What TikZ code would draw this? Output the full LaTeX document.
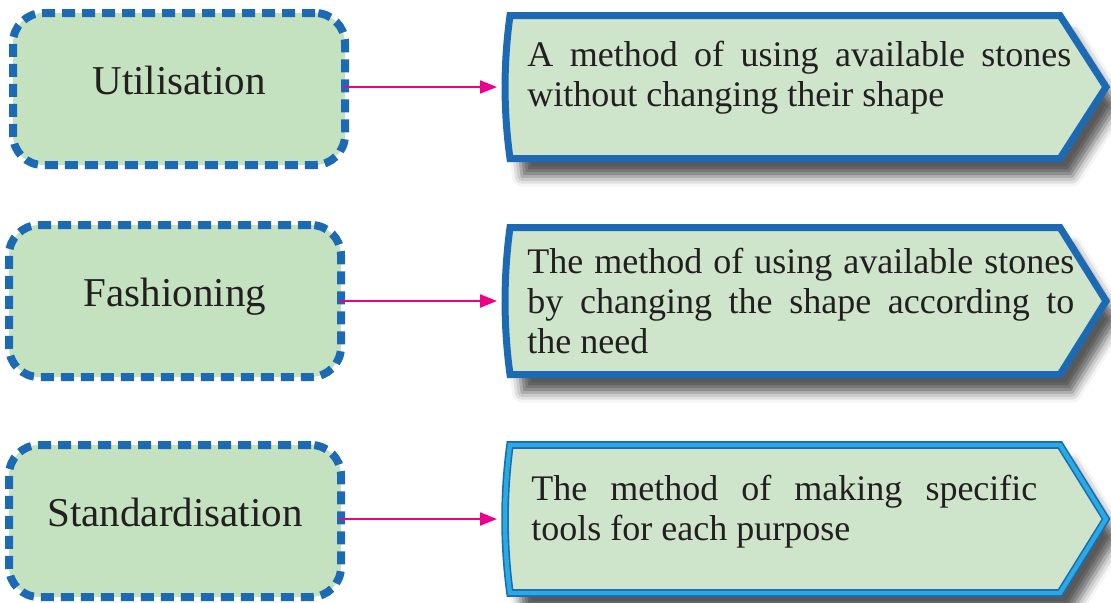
\documentclass[tikz,border=0pt]{standalone}
\usepackage{fontspec}
\setmainfont{Liberation Serif}
\usetikzlibrary{arrows.meta,shadows.blur}
\definecolor{boxblue}{RGB}{29,106,180}
\definecolor{boxcyan}{RGB}{41,171,226}
\definecolor{termfill}{RGB}{197,226,192}
\definecolor{notefill}{RGB}{206,228,203}
\definecolor{linkpink}{RGB}{236,0,140}
\definecolor{inktext}{RGB}{35,31,32}
\hyphenpenalty=10000
\exhyphenpenalty=10000
\begin{document}
\begin{tikzpicture}[x=0.5pt,y=-0.5pt,
  term/.style={draw=boxblue,fill=termfill,line width=4pt,dash pattern=on 6.5pt off 3.5pt,
    rounded corners=15pt,minimum width=166pt,minimum height=76pt,text=inktext,
    font=\fontsize{20.5}{24}\selectfont,text height=7pt,text depth=2pt},
  notebody/.style={inner sep=0pt,outer sep=0pt,minimum width=275pt},
  noteframe/.style={draw=boxblue,line width=3.5pt,fill=notefill,line join=miter,
    blur shadow={shadow xshift=6pt,shadow yshift=-9pt,shadow blur radius=5pt,shadow opacity=65}},
  notetext/.style={anchor=base west,inner sep=0pt,text=inktext,align=justify,
    font=\fontsize{18}{20}\selectfont},
  link/.style={draw=linkpink,line width=1pt,-{Triangle[length=8.5pt,width=6.5pt]},
    shorten <=-3pt,shorten >=6.5pt}]
\useasboundingbox (0,0) rectangle (1111,602);
\node [term] (u1) at (179,89) {Utilisation};
\node [term] (u2) at (175,301) {Fashioning};
\node [term] (u3) at (175,521) {Standardisation};
\node [notebody,minimum height=71.5pt] (d1) at (785,87) {};
\node [notebody,minimum height=73.5pt] (d2) at (785,301) {};
\node [notebody,minimum height=74pt] (d3) at (785,519) {};
\draw [noteframe] (d1.north west) -- (d1.north east) -- ([xshift=23pt]d1.east) -- (d1.south east) -- (d1.south west)
  .. controls +(-3.3pt,24pt) and +(-3.3pt,-24pt) .. (d1.north west) -- cycle;
\draw [noteframe] (d2.north west) -- (d2.north east) -- ([xshift=23pt]d2.east) -- (d2.south east) -- (d2.south west)
  .. controls +(-3.3pt,24pt) and +(-3.3pt,-24pt) .. (d2.north west) -- cycle;
\draw [noteframe,line width=0.8pt,double=boxcyan,double distance=2.2pt] (d3.north west) -- (d3.north east) -- ([xshift=23pt]d3.east) -- (d3.south east) -- (d3.south west)
  .. controls +(-3.3pt,24pt) and +(-3.3pt,-24pt) .. (d3.north west) -- cycle;
\node [notetext,text width=272pt] (t1) at (527,66) {A method of using available stones without changing their shape};
\node [notetext,text width=273.5pt] (t2) at (527,273) {The method of using available stones by changing the shape according to\linebreak the need};
\node [notetext,text width=253pt] (t3) at (531,500) {The method of making specific tools for each purpose};
\draw [link] (u1.east |- d1.west) -- (d1.west);
\draw [link] (u2.east |- d2.west) -- (d2.west);
\draw [link] (u3.east |- d3.west) -- (d3.west);
\end{tikzpicture}
\end{document}
